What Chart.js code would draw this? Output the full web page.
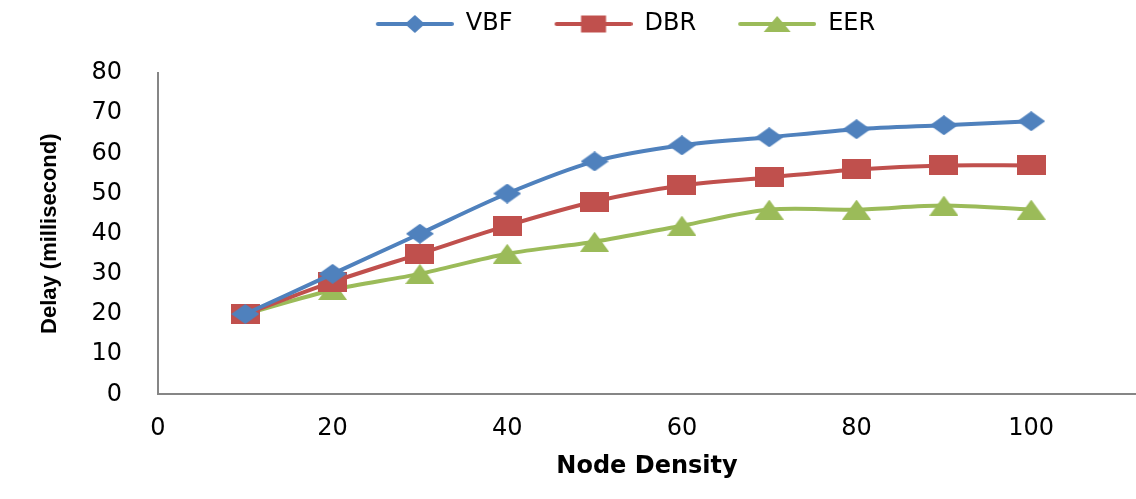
<!DOCTYPE html>
<html>
<head>
<meta charset="utf-8">
<title>Delay vs Node Density</title>
<script src="https://cdn.jsdelivr.net/npm/chart.js@4.4.1/dist/chart.umd.min.js"></script>
<style>
  html, body { margin: 0; padding: 0; background: #fff; overflow: hidden; }
  #wrap { width: 1150px; height: 499px; }
</style>
</head>
<body>
<div id="wrap"><canvas id="delayChart"></canvas></div>
<script>
// values
const nodeDensity = [10, 20, 30, 40, 50, 60, 70, 80, 90, 100];
const vbfDelay = [20, 30, 40, 50, 58, 62, 64, 66, 67, 68];
const dbrDelay = [20, 28, 35, 42, 48, 52, 54, 56, 57, 57];
const eerDelay = [20, 26, 30, 35, 38, 42, 46, 46, 47, 46];
const xTicks = [0, 20, 40, 60, 80, 100];
const yTicks = [0, 10, 20, 30, 40, 50, 60, 70, 80];

const blue = '#4F81BD';
const red = '#C0504D';
const green = '#9BBB59';

// excel style markers (a bit wider than tall, like the picture)
function drawShape(g, shape, cx, cy, w, h) {
  g.beginPath();
  if (shape === 'diamond') {
    g.moveTo(cx, cy - h / 2);
    g.lineTo(cx + w / 2, cy);
    g.lineTo(cx, cy + h / 2);
    g.lineTo(cx - w / 2, cy);
  } else if (shape === 'square') {
    g.rect(cx - w / 2, cy - h / 2, w, h);
  } else {
    g.moveTo(cx, cy - h / 2);
    g.lineTo(cx + w / 2, cy + h / 2);
    g.lineTo(cx - w / 2, cy + h / 2);
  }
  g.closePath();
  g.fill();
}

function marker(shape, color, w, h) {
  const c = document.createElement('canvas');
  c.width = w;
  c.height = h;
  const g = c.getContext('2d');
  g.fillStyle = color;
  drawShape(g, shape, w / 2, h / 2, w, h);
  return c;
}

// legend icon: line with the marker on it, left margin gives item spacing
const iconW = 110;
function legendIcon(shape, color, w, h) {
  const c = document.createElement('canvas');
  c.width = iconW;
  c.height = 24;
  const g = c.getContext('2d');
  g.strokeStyle = color;
  g.lineWidth = 4;
  g.lineCap = 'round';
  g.beginPath();
  g.moveTo(iconW - 76, 12);
  g.lineTo(iconW - 2, 12);
  g.stroke();
  g.fillStyle = color;
  drawShape(g, shape, iconW - 39, 12, w, h);
  return c;
}

const legendIcons = [
  legendIcon('diamond', blue, 20, 18),
  legendIcon('square', red, 25, 17),
  legendIcon('triangle', green, 27, 16)
];

function toPoints(ys) {
  return nodeDensity.map((x, i) => ({ x: x, y: ys[i] }));
}

const data = {
  datasets: [
    {
      label: 'VBF',
      data: toPoints(vbfDelay),
      borderColor: blue,
      backgroundColor: blue,
      borderWidth: 4,
      pointStyle: marker('diamond', blue, 28, 20),
      pointRadius: 10,
      tension: 0.3,
    },
    {
      label: 'DBR',
      data: toPoints(dbrDelay),
      borderColor: red,
      backgroundColor: red,
      borderWidth: 4,
      pointStyle: marker('square', red, 29, 20),
      pointRadius: 10,
      tension: 0.3,
    },
    {
      label: 'EER',
      data: toPoints(eerDelay),
      borderColor: green,
      backgroundColor: green,
      borderWidth: 4,
      pointStyle: marker('triangle', green, 29, 20),
      pointRadius: 10,
      tension: 0.3,
    },
  ],
};

// move the legend to where it sits in the figure
const legendNudge = {
  id: 'legendNudge',
  afterLayout(chart) {
    const lg = chart.legend;
    lg.left += 18;
    lg.right += 18;
    lg.top -= 27;
    lg.bottom -= 27;
  },
};

const config = {
  type: 'line',
  data: data,
  options: {
    responsive: true,
    maintainAspectRatio: false,
    animation: false,
    layout: { padding: { left: 33, top: 29, right: 0, bottom: 14 } },
    plugins: {
      tooltip: { enabled: false },
      legend: {
        position: 'top',
        labels: {
          usePointStyle: true,
          pointStyleWidth: iconW,
          padding: 10,
          color: '#000',
          font: { family: 'DejaVu Sans', size: 24 },
          generateLabels: (chart) => chart.data.datasets.map((ds, i) => ({
            text: ds.label,
            pointStyle: legendIcons[i],
            fillStyle: ds.backgroundColor,
            strokeStyle: ds.borderColor,
            lineWidth: 0,
            fontColor: '#000',
            hidden: false,
            datasetIndex: i,
          })),
        },
      },
    },
    scales: {
      x: {
        type: 'linear',
        min: 0,
        max: 112,
        afterBuildTicks: (scale) => { scale.ticks = xTicks.map(v => ({ value: v })); },
        grid: { display: false, drawTicks: false },
        border: { display: true, color: '#868686', width: 2 },
        ticks: {
          color: '#000',
          padding: 20,
          maxRotation: 0,
          font: { family: 'DejaVu Sans', size: 24 },
        },
        title: {
          display: true,
          text: 'Node Density',
          color: '#000',
          padding: { top: -11, bottom: 4 },
          font: { family: 'DejaVu Sans', size: 24, weight: 'bold' },
        },
      },
      y: {
        min: 0,
        max: 80,
        afterBuildTicks: (scale) => { scale.ticks = yTicks.map(v => ({ value: v })); },
        grid: { display: false, drawTicks: false },
        border: { display: true, color: '#868686', width: 2 },
        ticks: {
          color: '#000',
          padding: 36,
          font: { family: 'DejaVu Sans', size: 24 },
        },
        title: {
          display: true,
          text: 'Delay (millisecond)',
          color: '#000',
          padding: { top: 4, bottom: -8 },
          font: { family: 'Liberation Sans', size: 22, weight: 'bold' },
        },
      },
    },
  },
  plugins: [legendNudge],
};

const ctx = document.getElementById('delayChart').getContext('2d');
const delayChart = new Chart(ctx, config);
</script>
</body>
</html>
